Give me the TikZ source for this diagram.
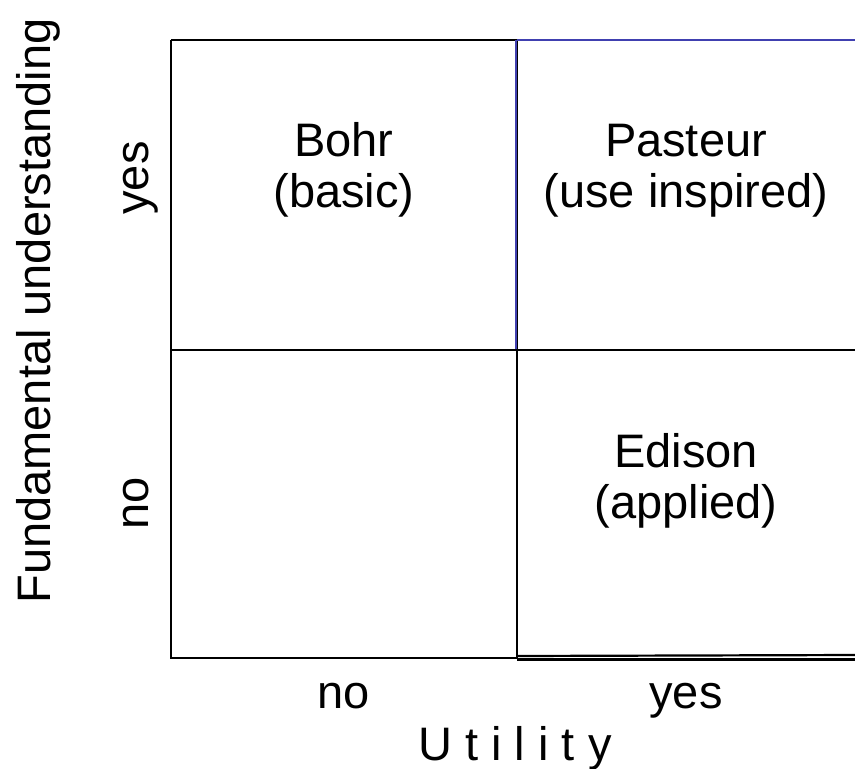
\documentclass[tikz,border=0pt]{standalone}
\usepackage{fontspec}
\setmainfont{Liberation Sans}
\definecolor{lineblue}{RGB}{64,64,176}
\begin{document}
\begin{tikzpicture}[x=1pt,y=-1pt,
  grid/.style={line width=2.2pt,black},
  gridblue/.style={line width=2.2pt,lineblue},
  lbl/.style={font=\fontsize{47}{51}\selectfont,inner sep=0pt,anchor=base,align=center},
  vlbl/.style={font=\fontsize{47}{51}\selectfont,inner sep=0pt,anchor=base,rotate=90}]
\useasboundingbox (0,0) rectangle (855,769);
% corners
\coordinate (tl) at (171,40);
\coordinate (tm) at (517,40);
\coordinate (tr) at (855,40);
\coordinate (ml) at (171,350);
\coordinate (mm) at (517,350);
\coordinate (mr) at (855,350);
\coordinate (bl) at (171,658);
\coordinate (bm) at (517,658);
% grid lines
\draw[grid] (tl) -- (tm);
\draw[grid] (tl) -- (bl) -- (bm);
\draw[grid] (tm) -- (bm);
\draw[grid] (ml) -- (mr);
\draw[grid] (517,656) -- (855,655);
\draw[grid] (517,659.5) -- (855,659.5);
\draw[gridblue] (tm) -- (tr);
\draw[gridblue] (516,40) -- (516,349);
% cell texts (anchor = baseline of last line)
\node[lbl] (bohr) at (344,207) {Bohr\\(basic)};
\node[lbl] (pasteur) at (686,207) {Pasteur\\(use inspired)};
\node[lbl] (edison) at (686,518) {Edison\\(applied)};
% axis tick labels
\node[lbl] (xno) at (344,708) {no};
\node[lbl] (xyes) at (686,708) {yes};
\node[lbl] (xtitle) at (515,760) {U t i l i t y};
\node[vlbl] (yyes) at (148,178) {yes};
\node[vlbl] (yno) at (148,503) {no};
\node[vlbl] (ytitle) at (50,311) {Fundamental understanding};
\end{tikzpicture}
\end{document}
